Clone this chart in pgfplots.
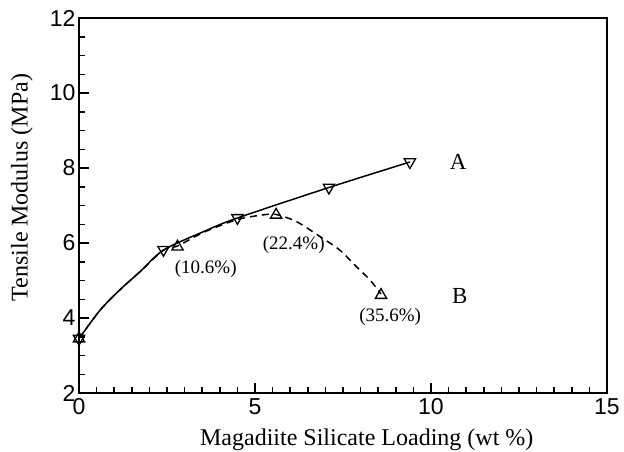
\documentclass[border=0pt]{standalone}
\usepackage{pgfplots}
\pgfplotsset{compat=1.18}
\usepackage{fontspec}
\setmainfont{Liberation Serif}
\newfontfamily\sansf{Liberation Sans}
\begin{document}
\begin{tikzpicture}
\begin{axis}[
  at={(0,0)}, anchor=south west,
  scale only axis, width=528pt, height=375pt,
  xmin=0, xmax=15, ymin=2, ymax=12,
  xtick={0,5,10,15}, ytick={2,4,6,8,10,12},
  minor x tick num=9, minor y tick num=3,
  tick pos=left, tick align=inside,
  major tick length=10pt, minor tick length=6pt,
  every tick/.style={black, line width=1.5pt},
  axis line style={line width=2pt},
  /pgf/number format/assume math mode=true,
  ticklabel style={font=\sansf\fontsize{23}{23}\selectfont},
  xticklabel style={yshift=-2pt},
  xlabel={Magadiite Silicate Loading (wt \%)},
  ylabel={Tensile Modulus (MPa)},
  xlabel style={font=\fontsize{24}{24}\selectfont, at={(axis description cs:0.545,-0.1413)}, anchor=base},
  ylabel style={font=\fontsize{24}{24}\selectfont, at={(axis description cs:-0.108,0.548)}, anchor=center},
  clip=false,
]
% curve A (solid)
\addplot[black, line width=1.5pt, smooth, tension=0.5, no marks]
  coordinates {(0,3.45) (0.6,4.21) (1.16,4.75) (1.74,5.24) (2.4,5.81) (3.53,6.30) (4.48,6.66) (7.1,7.48) (9.4,8.16)};
% curve B (dashed)
\addplot[black, line width=1.5pt, smooth, tension=0.5, no marks, dash pattern=on 7pt off 5pt]
  coordinates {(0,3.45) (0.6,4.21) (1.16,4.75) (1.74,5.24) (2.4,5.81) (2.8,5.92) (3.53,6.28) (4.48,6.62) (5.23,6.75) (5.6,6.76) (6.18,6.57) (6.85,6.17) (7.41,5.81) (7.88,5.37) (8.27,5.01) (8.58,4.64)};
% data A
\addplot[only marks, mark=triangle, mark size=6.5pt,
  mark options={solid, rotate=180, fill=white, draw=black, line width=1.3pt}]
  coordinates {(0,3.45) (2.4,5.82) (4.5,6.67) (7.1,7.48) (9.4,8.16)};
% data B
\addplot[only marks, mark=triangle, mark size=6.5pt,
  mark options={solid, fill=white, draw=black, line width=1.3pt}]
  coordinates {(0,3.45) (2.8,5.9) (5.6,6.75) (8.58,4.61)};
\node[font=\fontsize{19}{19}\selectfont] at (axis cs:3.6,5.31) {(10.6\%)};
\node[font=\fontsize{19}{19}\selectfont] at (axis cs:6.1,5.95) {(22.4\%)};
\node[font=\fontsize{19}{19}\selectfont] at (axis cs:8.84,4.03) {(35.6\%)};
\node[font=\fontsize{23}{23}\selectfont] at (axis cs:10.77,8.16) {A};
\node[font=\fontsize{23}{23}\selectfont] at (axis cs:10.82,4.59) {B};
\end{axis}
\pgfresetboundingbox
\path (-79pt,-58pt) rectangle (545pt,393pt);
\end{tikzpicture}
\end{document}
